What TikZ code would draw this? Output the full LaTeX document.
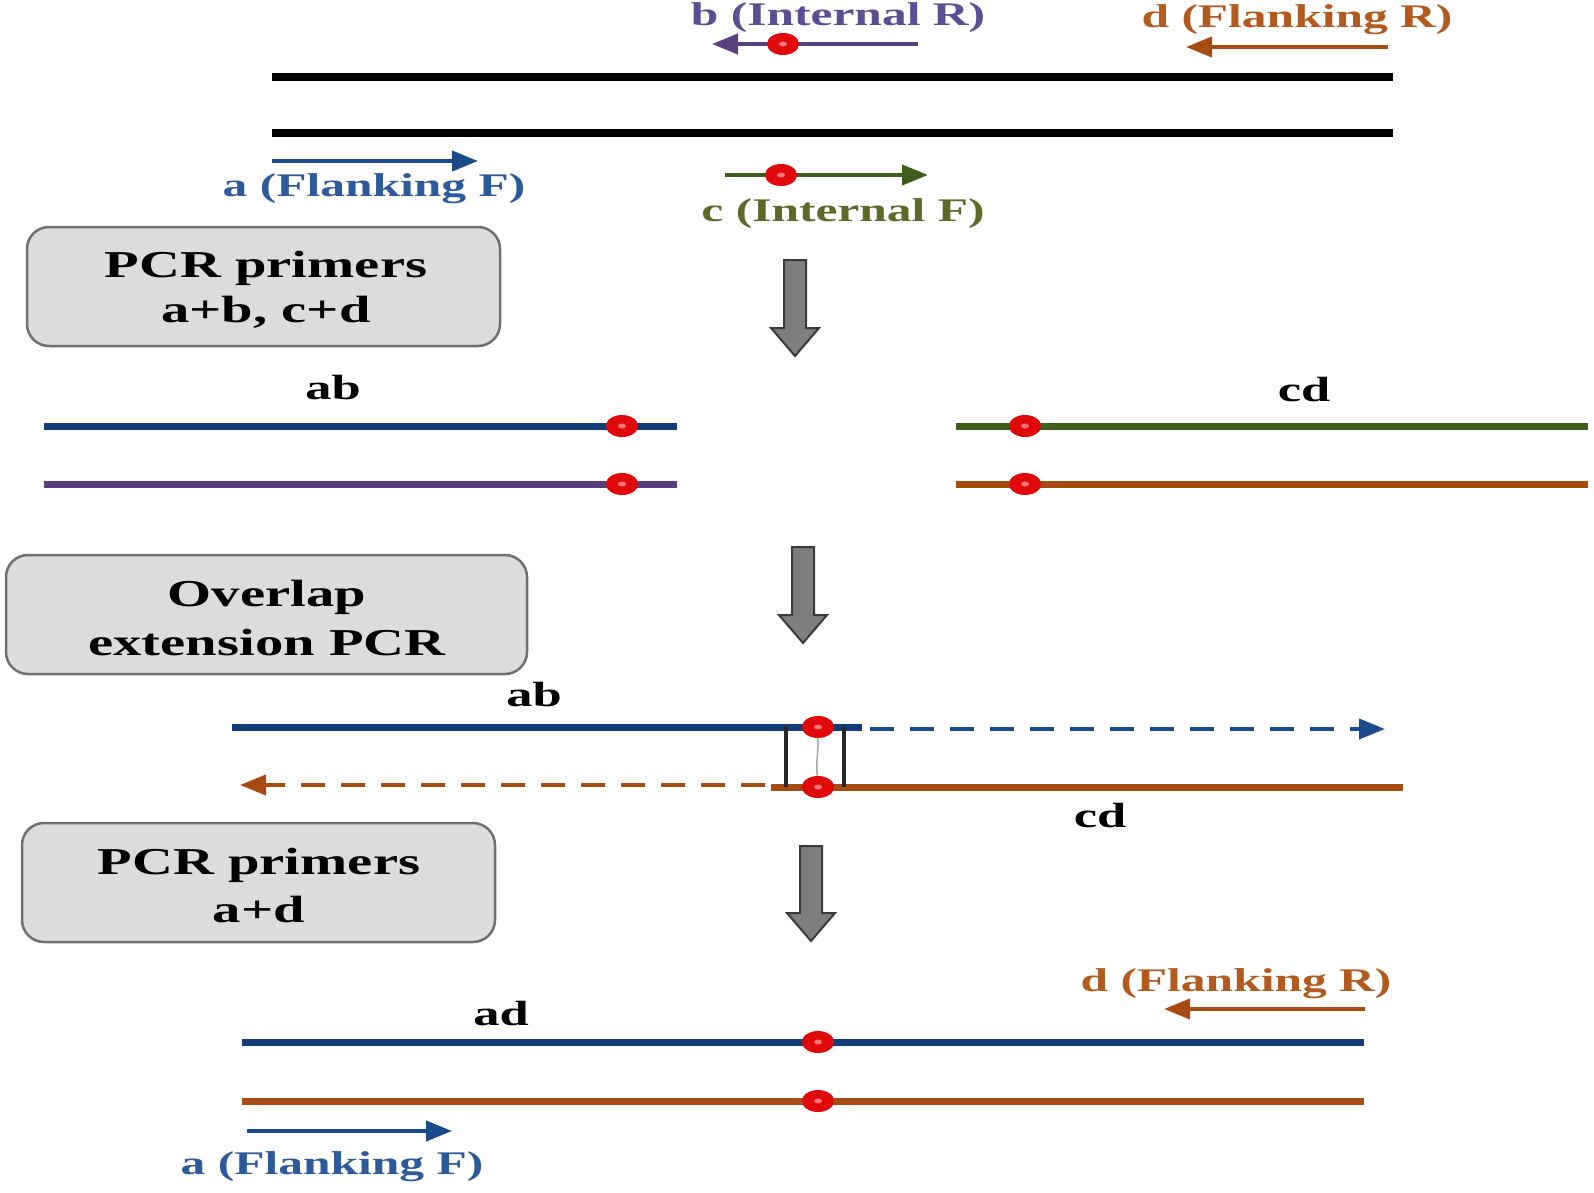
\documentclass[tikz,border=0pt]{standalone}
\usepackage{fontspec}
\setmainfont{Liberation Serif}
\usetikzlibrary{arrows.meta}
\definecolor{cblue}{HTML}{1A4A8A}
\definecolor{cnavy}{HTML}{123C78}
\definecolor{cpurple}{HTML}{5A3F7E}
\definecolor{cgreen}{HTML}{3E5E1C}
\definecolor{cbrown}{HTML}{A64C12}
\definecolor{ctxtblue}{HTML}{2D5A9A}
\definecolor{ctxtpurple}{HTML}{5B4E92}
\definecolor{ctxtbrown}{HTML}{B35A1E}
\definecolor{ctxtgreen}{HTML}{5C6A28}
\definecolor{cred}{HTML}{E00808}
\definecolor{boxfill}{HTML}{DCDCDC}
\definecolor{boxdraw}{HTML}{707070}
\definecolor{arrfill}{HTML}{7E7E7E}
\definecolor{arrdraw}{HTML}{3A3A3A}
\tikzset{
  lbl/.style={font=\bfseries\fontsize{33}{33}\selectfont, xscale=1.5, inner sep=0pt},
  seglbl/.style={font=\bfseries\fontsize{35}{35}\selectfont, xscale=1.5, inner sep=0pt, text=black},
  stepbox/.style={draw=boxdraw, line width=2.5pt, fill=boxfill, rounded corners=22pt},
  boxtxt/.style={font=\bfseries\fontsize{38}{38}\selectfont, xscale=1.49, inner sep=0pt, text=black},
  dna/.style={line width=8pt},
  strand/.style={line width=7pt},
  primer/.style={line width=4pt, -{Triangle[length=26pt,width=20pt]}},
  dasharr/.style={line width=4pt, dash pattern=on 24pt off 16pt, -{Triangle[length=26pt,width=20pt]}},
  bigarrow/.style={fill=arrfill, draw=arrdraw, line width=2pt, line join=miter}
}
\newcommand{\mutdot}[2]{%
  \fill[cred] (#1,#2) ellipse [x radius=16, y radius=11];
  \fill[red!55!white] (#1,#2) ellipse [x radius=4, y radius=2.5];}
\newcommand{\grayarrow}[3]{% center x, top y, bottom y
  \path[bigarrow] (#1-11,#2) -- (#1+11,#2) -- (#1+11,#3-28) -- (#1+24,#3-28)
   -- (#1,#3) -- (#1-24,#3-28) -- (#1-11,#3-28) -- cycle;}
\begin{document}
\begin{tikzpicture}[x=1pt,y=-1pt]
\useasboundingbox (0,0) rectangle (1594,1192);
\fill[white] (0,0) rectangle (1594,1192);

% ---------- top: template and primers ----------
\coordinate (t1l) at (272,77);  \coordinate (t1r) at (1393,77);
\coordinate (t2l) at (272,133); \coordinate (t2r) at (1393,133);
\draw[dna] (t1l) -- (t1r);
\draw[dna] (t2l) -- (t2r);

\node[lbl, text=ctxtpurple] (blab) at (838,18) {b (Internal R)};
\coordinate (bs) at (918,44); \coordinate (be) at (712,44);
\draw[primer, cpurple] (bs) -- (be);
\mutdot{783}{44}

\node[lbl, text=ctxtbrown] (dlab) at (1297,20) {d (Flanking R)};
\coordinate (ds) at (1388,47); \coordinate (de) at (1186,47);
\draw[primer, cbrown] (ds) -- (de);

\coordinate (as) at (272,161); \coordinate (ae) at (478,161);
\draw[primer, cblue] (as) -- (ae);
\node[lbl, text=ctxtblue] (alab) at (374,189) {a (Flanking F)};

\coordinate (cs) at (725,175); \coordinate (ce) at (928,175);
\draw[primer, cgreen] (cs) -- (ce);
\mutdot{781}{175}
\node[lbl, text=ctxtgreen] (clab) at (843,214) {c (Internal F)};

% ---------- step 1 ----------
\path[stepbox] (27,227) rectangle (500,346);
\node[boxtxt] (b1l1) at (266,268) {PCR primers};
\node[boxtxt] (b1l2) at (266,312) {a+b, c+d};
\grayarrow{795}{260}{356}

\node[seglbl] (ab1) at (333,388) {ab};
\draw[strand, cnavy] (44,426) -- (677,426);
\draw[strand, cpurple] (44,484) -- (677,484);
\mutdot{622}{426}
\mutdot{622}{484}

\node[seglbl] (cd1) at (1304,390) {cd};
\draw[strand, cgreen] (956,426) -- (1588,426);
\draw[strand, cbrown] (956,484) -- (1588,484);
\mutdot{1025}{426}
\mutdot{1025}{484}

% ---------- step 2 ----------
\path[stepbox] (6,555) rectangle (527,674);
\node[boxtxt] (b2l1) at (267,597) {Overlap};
\node[boxtxt] (b2l2) at (267,642) {extension PCR};
\grayarrow{803}{547}{643}

\node[seglbl] (ab2) at (534,695) {ab};
\draw[strand, cnavy] (232,727) -- (862,727);
\draw[dasharr, cblue] (870,729) -- (1385,729);
\draw[strand, cbrown] (771,787) -- (1403,787);
\draw[dasharr, cbrown] (765,785) -- (240,785);
\draw[line width=3.5pt, black!85] (786,727) -- (786,787);
\draw[line width=3.5pt, black!85] (844,727) -- (844,787);
\draw[line width=1.5pt, gray!70] (816,730) .. controls (822,748) and (812,766) .. (820,784);
\mutdot{818}{727}
\mutdot{818}{787}
\node[seglbl] (cd2) at (1100,816) {cd};

% ---------- step 3 ----------
\path[stepbox] (22,823) rectangle (495,942);
\node[boxtxt] (b3l1) at (259,865) {PCR primers};
\node[boxtxt] (b3l2) at (259,909) {a+d};
\grayarrow{811}{846}{941}

\node[lbl, text=ctxtbrown] (dlab2) at (1236,984) {d (Flanking R)};
\coordinate (d2s) at (1365,1009); \coordinate (d2e) at (1164,1009);
\draw[primer, cbrown] (d2s) -- (d2e);

\node[seglbl] (ad) at (501,1014) {ad};
\draw[strand, cnavy] (242,1042) -- (1364,1042);
\draw[strand, cbrown] (242,1101) -- (1364,1101);
\mutdot{818}{1042}
\mutdot{818}{1101}

\coordinate (a2s) at (247,1131); \coordinate (a2e) at (452,1131);
\draw[primer, cblue] (a2s) -- (a2e);
\node[lbl, text=ctxtblue] (alab2) at (332,1167) {a (Flanking F)};
\end{tikzpicture}
\end{document}
